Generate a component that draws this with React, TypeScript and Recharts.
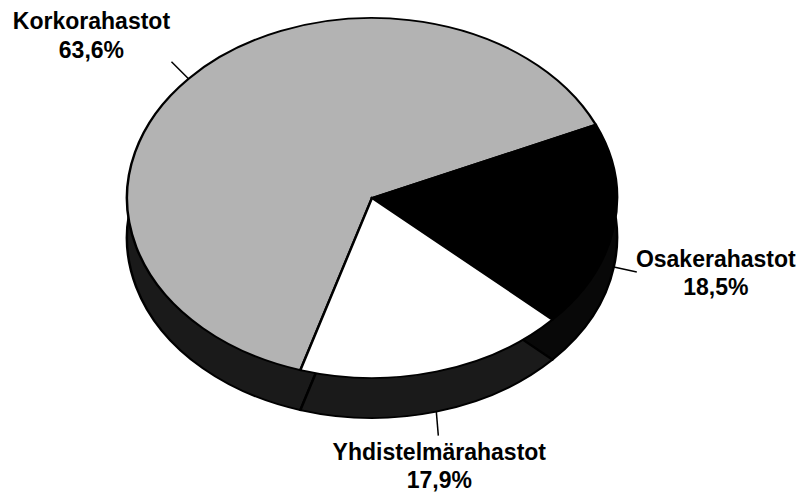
import { PieChart, Pie, Cell, Sector } from "recharts";

// rahastojen osuudet (%)
const categories = ["Korkorahastot", "Osakerahastot", "Yhdistelmärahastot"];
const shares = [63.6, 18.5, 17.9];

const topColors = ["#b3b3b3", "#000000", "#ffffff"];
const sideColors = ["#1a1a1a", "#080808", "#1a1a1a"];

const W = 803;
const H = 493;
const CX = 372;
const CY = 198;
const RX = 245;
const RY = 180;
const DEPTH = 40;
const K = RY / RX; // tilt of the pie
const START = 253;

// leader line / text offsets from the rim point, per slice
const labelPos = [
  { side: false, lx: -17, ly: -17, tx: -97, ty: -50, gap: 29 },
  { side: true, lx: 23, ly: 5, tx: 102, ty: 0, gap: 28 },
  { side: true, lx: 2, ly: 24, tx: 3, ty: 48, gap: 28 },
];

const data = categories.map((name, i) => ({ name, value: shares[i] }));

const RAD = Math.PI / 180;

// draws a sector squashed into an ellipse
const FlatSector = (props: any) => {
  const { cy } = props;
  return (
    <g transform={`translate(0 ${cy}) scale(1 ${K}) translate(0 ${-cy})`}>
      <Sector {...props} stroke="#000" strokeWidth={2.5} />
    </g>
  );
};

const renderLabel = (props: any) => {
  const { cx, cy, midAngle, outerRadius, index, name, value } = props;
  const pos = labelPos[index];
  const px = cx + outerRadius * Math.cos(-midAngle * RAD);
  const py = cy + outerRadius * K * Math.sin(-midAngle * RAD) + (pos.side ? DEPTH : 0);
  const tx = px + pos.tx;
  const ty = py + pos.ty;
  return (
    <g key={`lbl-${index}`}>
      <line x1={px} y1={py} x2={px + pos.lx} y2={py + pos.ly} stroke="#000" strokeWidth={1.5} />
      <text
        x={tx}
        y={ty}
        textAnchor="middle"
        fill="#000"
        fontFamily="'Liberation Sans', Arial, sans-serif"
        fontWeight="bold"
        fontSize={23}
      >
        <tspan x={tx}>{name}</tspan>
        <tspan x={tx} dy={pos.gap}>
          {value.toFixed(1).replace(".", ",")}%
        </tspan>
      </text>
    </g>
  );
};

export default function App() {
  return (
    <div style={{ width: W, height: H, background: "#fff" }}>
      <style>{"body{margin:0}"}</style>
      <PieChart width={W} height={H} margin={{ top: 0, right: 0, bottom: 0, left: 0 }}>
        <Pie
          data={data}
          dataKey="value"
          cx={CX}
          cy={CY + DEPTH}
          outerRadius={RX}
          startAngle={START}
          endAngle={START - 360}
          shape={FlatSector}
          isAnimationActive={false}
        >
          {data.map((d, i) => (
            <Cell key={d.name} fill={sideColors[i]} />
          ))}
        </Pie>
        <Pie
          data={data}
          dataKey="value"
          cx={CX}
          cy={CY}
          outerRadius={RX}
          startAngle={START}
          endAngle={START - 360}
          shape={FlatSector}
          label={renderLabel}
          labelLine={false}
          isAnimationActive={false}
        >
          {data.map((d, i) => (
            <Cell key={d.name} fill={topColors[i]} />
          ))}
        </Pie>
      </PieChart>
    </div>
  );
}
